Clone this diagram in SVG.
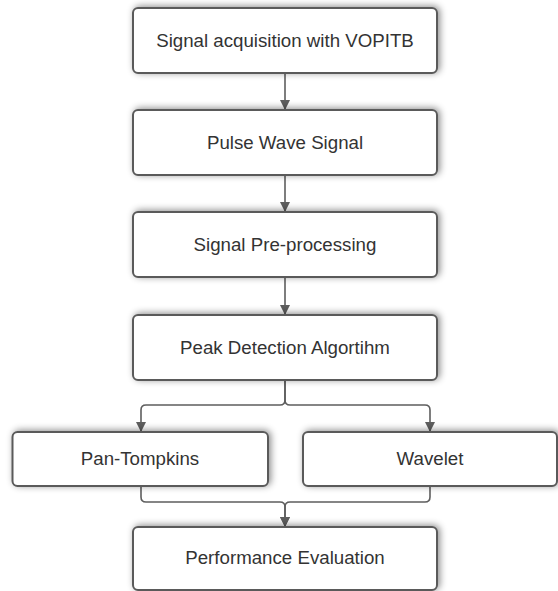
<svg xmlns="http://www.w3.org/2000/svg" width="558" height="591" viewBox="0 0 558 591">
<style>
.box{fill:#fff;stroke:#5a5a5a;stroke-width:2;filter:url(#sh)}
.lbl{font-family:"Liberation Sans",Arial,sans-serif;font-size:18.7px;fill:#333;text-anchor:middle;dominant-baseline:central}
.con{fill:none;stroke:#5e5e5e;stroke-width:1.6;marker-end:url(#ah)}
</style>
<defs>
<filter id="sh" x="-10%" y="-30%" width="120%" height="160%">
<feDropShadow dx="2" dy="-1" stdDeviation="3.5" flood-color="#000" flood-opacity="0.45"/>
</filter>
<marker id="ah" viewBox="0 0 10 10" refX="10" refY="5" markerWidth="10" markerHeight="10" markerUnits="userSpaceOnUse" orient="auto">
<path d="M0,0 L10,5 L0,10 Z" fill="#5e5e5e"/>
</marker>
</defs>
<g id="connectors">
<path class="con" d="M285,73 V110"/>
<path class="con" d="M285,175 V212"/>
<path class="con" d="M285,277 V315"/>
<path class="con" d="M285,380 V400 Q285,405 280,405 H146 Q141,405 141,410 V432"/>
<path class="con" d="M285,380 V400 Q285,405 290,405 H425 Q430,405 430,410 V432"/>
<path class="con" d="M141,486 V497 Q141,502 146,502 H280 Q285,502 285,507 V527"/>
<path class="con" d="M430,486 V497 Q430,502 425,502 H290 Q285,502 285,507 V527"/>
</g>
<g id="n1"><rect class="box" x="133" y="8" width="304" height="65" rx="5"/><text class="lbl" x="285" y="40.5">Signal acquisition with VOPITB</text></g>
<g id="n2"><rect class="box" x="133" y="110" width="304" height="65" rx="5"/><text class="lbl" x="285" y="142.5">Pulse Wave Signal</text></g>
<g id="n3"><rect class="box" x="133" y="212" width="304" height="65" rx="5"/><text class="lbl" x="285" y="244.5">Signal Pre-processing</text></g>
<g id="n4"><rect class="box" x="133" y="315" width="304" height="65" rx="5"/><text class="lbl" x="285" y="347.5">Peak Detection Algortihm</text></g>
<g id="n5"><rect class="box" x="12.5" y="432" width="255.5" height="54" rx="5"/><text class="lbl" x="140" y="458">Pan-Tompkins</text></g>
<g id="n6"><rect class="box" x="303" y="432" width="254" height="54" rx="5"/><text class="lbl" x="430" y="458">Wavelet</text></g>
<g id="n7"><rect class="box" x="133" y="527" width="304" height="63" rx="5"/><text class="lbl" x="285" y="557">Performance Evaluation</text></g>
</svg>
